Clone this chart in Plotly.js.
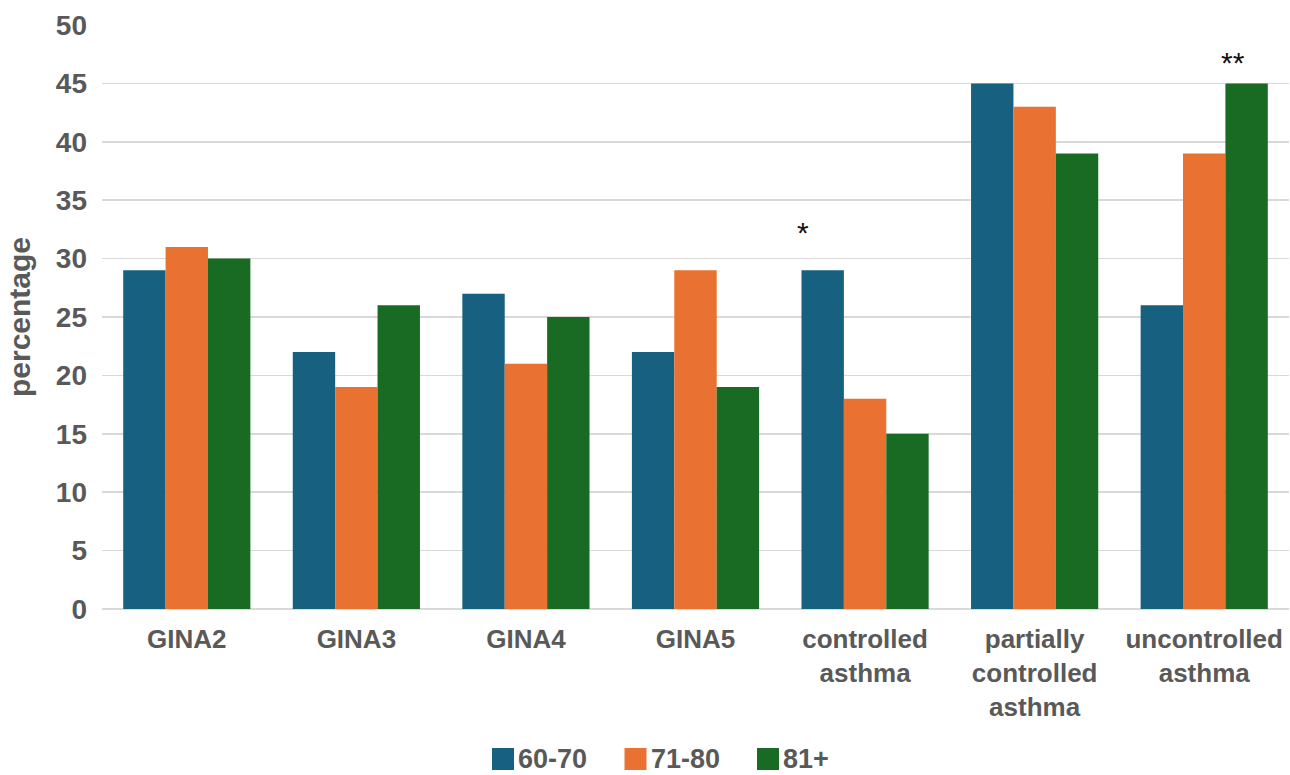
<!DOCTYPE html>
<html>
<head>
<meta charset="utf-8">
<script src="https://cdn.plot.ly/plotly-3.0.1.min.js"></script>
<style>
  html, body { margin: 0; padding: 0; background: #ffffff; }
  #chart { width: 1290px; height: 775px; }
</style>
</head>
<body>
<div id="chart"></div>
<script>
const categories = ['GINA2', 'GINA3', 'GINA4', 'GINA5', 'controlled<br>asthma', 'partially<br>controlled<br>asthma', 'uncontrolled<br>asthma'];
const seriesNames = ['60-70', '71-80', '81+'];
const values6070 = [29, 22, 27, 22, 29, 45, 26];
const values7180 = [31, 19, 21, 29, 18, 43, 39];
const values81 = [30, 26, 25, 19, 15, 39, 45];
const seriesColors = ['#17607f', '#e97132', '#196b24'];
const yTicks = [0, 5, 10, 15, 20, 25, 30, 35, 40, 45, 50];
const sigLabels = ['*', '**'];
const sigCategories = ['controlled<br>asthma', 'uncontrolled<br>asthma'];
const sigY = [32.2, 46.8];
const sigShift = [-62, 29];

const allValues = [values6070, values7180, values81];
const FONT = 'Liberation Sans, Arial, sans-serif';
const tickFont = { family: FONT, size: 26, color: '#595959', weight: 'bold' };

// plot-area geometry (pixels) used to place the custom legend
const M = { l: 102, r: 1, t: 25, b: 166 };
const PW = 1290 - M.l - M.r, PH = 775 - M.t - M.b;
const px2x = px => (px - M.l) / PW;
const py2y = py => (775 - M.b - py) / PH;

const traces = allValues.map((vals, i) => ({
  type: 'bar',
  name: seriesNames[i],
  x: categories,
  y: vals,
  marker: { color: seriesColors[i], line: { width: 0 } },
  showlegend: false,
  hoverinfo: 'x+y+name'
}));

const annotations = sigLabels.map((t, i) => ({
  text: t,
  x: sigCategories[i],
  y: sigY[i],
  xref: 'x', yref: 'y',
  xshift: sigShift[i],
  showarrow: false,
  xanchor: 'center', yanchor: 'middle',
  font: { family: FONT, size: 30, color: '#111111' }
}));

// custom legend: larger colour squares like the reference
const shapes = [];
const legendStart = 492, legendPitch = 132.5, sq = 22, legendMid = 759;
seriesNames.forEach((name, i) => {
  const x0 = legendStart + i * legendPitch;
  shapes.push({
    type: 'rect', xref: 'paper', yref: 'paper',
    x0: px2x(x0), x1: px2x(x0 + sq),
    y0: py2y(legendMid - sq / 2), y1: py2y(legendMid + sq / 2),
    fillcolor: seriesColors[i], line: { width: 0 }
  });
  annotations.push({
    text: name, xref: 'paper', yref: 'paper',
    x: px2x(x0 + sq + 3), y: py2y(legendMid),
    xanchor: 'left', yanchor: 'middle', showarrow: false,
    borderpad: 0,
    font: { family: FONT, size: 27, color: '#595959', weight: 'bold' }
  });
});

const layout = {
  width: 1290,
  height: 775,
  margin: M,
  paper_bgcolor: '#ffffff',
  plot_bgcolor: '#ffffff',
  barmode: 'group',
  bargap: 0.25,
  bargroupgap: 0,
  showlegend: false,
  xaxis: {
    type: 'category',
    tickfont: tickFont,
    ticklabelstandoff: 12,
    showgrid: false,
    showline: false,
    ticks: '',
    zeroline: false
  },
  yaxis: {
    range: [0, 50],
    tickvals: yTicks,
    ticktext: yTicks.map(String),
    tickfont: { family: FONT, size: 28, color: '#595959', weight: 'bold' },
    ticklabelstandoff: 14,
    showgrid: true,
    gridcolor: '#d9d9d9',
    gridwidth: 1.5,
    zeroline: true,
    zerolinecolor: '#d9d9d9',
    zerolinewidth: 2,
    showline: false,
    ticks: '',
    title: {
      text: 'percentage',
      font: { family: FONT, size: 30, color: '#595959', weight: 'bold' },
      standoff: 16
    }
  },
  shapes: shapes,
  annotations: annotations
};

Plotly.newPlot('chart', traces, layout, { displayModeBar: false, staticPlot: true });
</script>
</body>
</html>
